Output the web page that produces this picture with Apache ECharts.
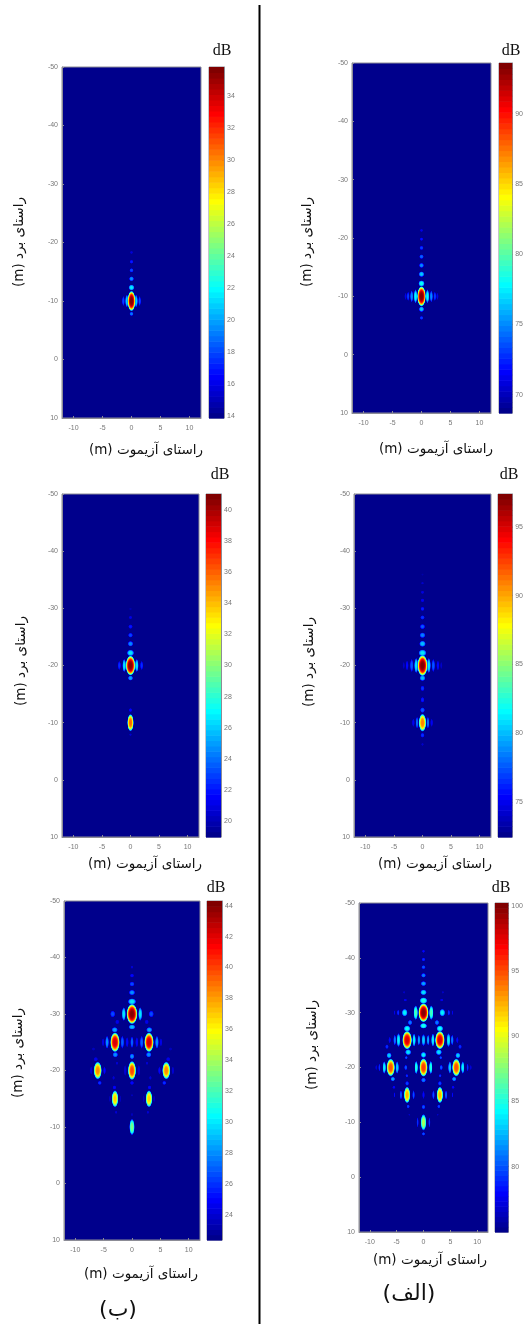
<!DOCTYPE html>
<html>
<head>
<meta charset="utf-8">
<style>html,body{margin:0;padding:0;background:#fff}#c{width:526px;height:1324px}</style>
<script src="https://cdn.jsdelivr.net/npm/echarts@6/dist/echarts.min.js"></script>
</head>
<body>
<div id="c"></div>
<script>
// ---- Data ----
// Lobe rows: [azimuth m, range m, azimuth width m, range width m, peak dB]
// "Pairs" rows occur at both +azimuth and -azimuth.
const azimuthTicks = [-10, -5, 0, 5, 10];
const rangeTicks = [-50, -40, -30, -20, -10, 0, 10];

const barTL = {min: 13.9, max: 35.8, ticks: [14,16,18,20,22,24,26,28,30,32,34]};
const barTR = {min: 68.7, max: 93.6, ticks: [70,75,80,85,90]};
const barML = {min: 19, max: 41, ticks: [20,22,24,26,28,30,32,34,36,38,40]};
const barMR = {min: 72.45, max: 97.4, ticks: [75,80,85,90,95]};
const barBL = {min: 22.4, max: 44.3, ticks: [24,26,28,30,32,34,36,38,40,42,44]};
const barBR = {min: 75, max: 100.2, ticks: [80,85,90,95,100]};

const centreTL = [
 [0,-10,1.15,2.9,35.8],[0,-12.3,.85,.85,21.5],[0,-13.8,.7,.7,19.5],[0,-15.25,.6,.6,18],
 [0,-16.7,.55,.55,17],[0,-18.3,.45,.45,15.5],[0,-7.8,.6,.6,19]];
const pairsTL = [[.8,-10,.5,1.8,21],[1.4,-10,.4,1.4,18]];

const centreTR = [
 [0,-10,1.25,2.9,93.6],[0,-12.2,.9,.9,78],[0,-13.8,.8,.8,76.5],[0,-15.3,.7,.7,75],[0,-16.8,.65,.65,74],
 [0,-18.3,.6,.6,73],[0,-19.8,.5,.5,72],[0,-21.3,.45,.45,71],[0,-7.8,.75,.8,76.5],[0,-6.3,.55,.55,73]];
const pairsTR = [[1.03,-10,.5,2,78],[1.7,-10,.45,1.7,75],[2.3,-10,.4,1.3,73],[2.75,-10,.35,1,71]];

const centreML = [
 [0,-20,1.4,2.9,41],[0,-22.2,1.05,.95,26.5],[0,-23.8,.8,.8,24.5],[0,-25.3,.7,.7,23],[0,-26.8,.65,.65,22],
 [0,-28.4,.5,.5,21],[0,-29.9,.4,.4,19.8],[0,-17.8,.75,.75,25],
 [0,-10,.95,2.5,36],[0,-12.2,.5,.6,21.5],[0,-7.9,.4,.4,20.5]];
const pairsML = [[1.1,-20,.55,1.9,26.5],[1.95,-20,.45,1.3,22.5]];

const centreMR = [
 [0,-20,1.5,3.1,97.4],[0,-22.2,1.15,1,81],[0,-23.8,.95,.9,80],[0,-25.3,.85,.8,78.5],[0,-26.8,.75,.75,77.5],
 [0,-28.4,.65,.65,76.5],[0,-29.9,.6,.6,76],[0,-31.4,.55,.55,75],[0,-32.8,.5,.5,74.5],[0,-34.4,.4,.4,74],
 [0,-35.9,.35,.35,73.2],[0,-17.8,.85,.85,80],[0,-16,.6,.8,76.5],[0,-14,.55,.8,76],[0,-12.2,.7,.8,77.5],
 [0,-10,1.1,2.6,91],[0,-7.8,.6,.7,76.5],[0,-6.2,.4,.45,74]];
const pairsMR = [[1.1,-20,.6,2.2,81],[1.9,-20,.5,1.9,77.5],[2.7,-20,.45,1.4,75.5],[3.3,-20,.35,1,74],
 [.95,-10,.45,1.7,78],[1.6,-10,.4,1.2,75]];

const centreBL = [
 [0,-30,1.6,3,44.2],[0,-32.2,1.2,.95,30],[0,-33.8,.9,.8,28],[0,-35.3,.75,.7,26.5],[0,-36.8,.6,.6,25],[0,-38.3,.45,.5,24],
 [0,-27.7,1,.75,29],[0,-25,.5,1.7,27],[0,-22.5,.7,.85,28],[0,-20,1.2,2.8,40],[0,-17.8,.6,.6,25],[0,-15.6,.3,.4,23.5],
 [0,-10,.8,2.4,33],[0,-12.2,.35,.5,23.5]];
const pairsBL = [
 [1.45,-30,.6,2,30],[3.4,-30,.75,1,26.5],[2.6,-28.6,.6,.7,24.5],
 [3,-25,1.4,2.9,42.5],[3.05,-27.2,.9,.8,28.5],[2.95,-22.8,.8,.8,28],[4.4,-25,.55,1.9,28],[1.7,-25,.5,1.9,27],[5.1,-25,.4,1.2,24.5],[.85,-25,.45,1.5,25],
 [6.05,-20,1.2,2.6,38.5],[6.4,-22,.65,.65,24.5],[6.8,-23.8,.5,.5,23.5],[5.7,-17.8,.6,.6,26],[7.2,-20,.4,1.2,24],[4.85,-20,.4,1.2,25],
 [1.2,-20,.45,1.6,24],[2.65,-21.3,.4,.5,24],[3.25,-18.7,.4,.6,24],
 [3,-15,1,2.5,37],[3.1,-17,.55,.6,25],[2.8,-12.6,.4,.45,24],[3.9,-15,.3,1,23.5],[2.05,-15,.3,1,23.5]];

const centreBR = [
 [0,-30,1.6,2.9,100],[0,-32.2,1.2,1,85],[0,-33.7,1,.85,83.5],[0,-35.3,.85,.75,82],[0,-36.8,.75,.7,81],[0,-38.3,.65,.6,80],[0,-39.7,.55,.55,79],[0,-41.2,.45,.5,78],
 [0,-27.6,1.1,.85,85],[0,-25,.6,1.8,83],[0,-22.3,.85,.9,84],[0,-20,1.3,2.8,95.5],[0,-17.7,.75,.75,81],[0,-15,.4,1.2,78],[0,-12.8,.55,.7,80],
 [0,-10,.9,2.5,88.5],[0,-7.9,.5,.55,80]];
const pairsBR = [
 [1.45,-30,.7,2.2,86],[3.5,-30,.9,1.15,84],[4.7,-30,.4,.9,79],[5.4,-30,.3,.7,77.5],[2.5,-28.2,.7,.8,81],[3.4,-32.3,.55,.45,77.5],[3.6,-33.7,.4,.4,76.5],
 [3.05,-25,1.5,2.8,98],[3.05,-27.1,1.05,.95,84.5],[2.85,-22.8,.95,.9,83.5],[4.65,-25,.6,2.1,84],[1.75,-25,.55,2,84],[5.35,-25,.45,1.6,81],[6.3,-25,.4,1,78],[.87,-25,.45,1.6,82],
 [6.8,-23.8,.55,.7,79],[6.4,-22.2,.8,.85,83],
 [6.1,-20,1.3,2.7,95],[7.3,-20,.55,1.9,84],[4.9,-20,.55,1.9,83],[8.2,-20,.35,1.2,79],[8.8,-20,.3,.8,77],[5.7,-17.9,.7,.7,82],[5.5,-16.4,.5,.5,78],
 [1.35,-20,.55,2,85],[3.3,-20,.5,.8,80],[3.1,-18.5,.45,.5,79],[3.2,-21.8,.45,.5,80],
 [3.05,-15,1,2.5,92.5],[1.85,-15,.4,1.4,80],[4.2,-15,.4,1.4,80],[5.4,-15,.3,.8,78],[3.05,-17.1,.6,.7,79.5],[2.85,-12.9,.5,.6,79.5],[2.65,-11.4,.3,.35,76.5],
 [1.1,-10,.35,1.5,79]];

// ---- Layout ----
const azimuthTitle = '(m) راستای آزیموت';
const rangeTitle = '(m) راستای برد';
const panels = [
 {l:62,r:201,t:67,b:418,bl:209,br:224,bar:barTL,c:centreTL,p:pairsTL,xt:[146,450],yt:[19,242],db:[222,51]},
 {l:352,r:491,t:63,b:413,bl:499,br:514,bar:barTR,c:centreTR,p:pairsTR,xt:[436,449],yt:[307,242],db:[511,51]},
 {l:62,r:199,t:494,b:837,bl:206,br:221,bar:barML,c:centreML,p:pairsML,xt:[145,864],yt:[21,661],db:[220,475]},
 {l:354,r:491,t:494,b:837,bl:498,br:513,bar:barMR,c:centreMR,p:pairsMR,xt:[435,864],yt:[309,662],db:[509,475]},
 {l:64,r:200,t:901,b:1240,bl:207,br:222,bar:barBL,c:centreBL,p:pairsBL,xt:[141,1274],yt:[18,1053],db:[216,888]},
 {l:359,r:488,t:903,b:1232,bl:495,br:510,bar:barBR,c:centreBR,p:pairsBR,xt:[430,1260],yt:[312,1045],db:[501,888]}
];

// MATLAB style jet colour map
function jet(t){
  t = 0.0125 + 0.9875 * Math.max(0, Math.min(1, t));
  const f = o => Math.round(255 * Math.max(0, Math.min(1, 1.5 - Math.abs(4 * t - o))));
  return [f(3), f(2), f(1)];
}
const rgb = (c, a) => `rgba(${c[0]},${c[1]},${c[2]},${a})`;
const GRAY = '#8c8c96', LABEL = '#777';
const TICK_FONT = {color: LABEL, fontSize: 7, fontFamily: 'Liberation Sans'};
const LOBE_SCALE = 1.25;

const grid = [], xAxis = [], yAxis = [], series = [], texts = [];
panels.forEach((p, i) => {
  // main image
  grid.push({left:p.l, top:p.t, width:p.r-p.l, height:p.b-p.t, show:true, backgroundColor:rgb(jet(0),1), borderColor:GRAY, borderWidth:1});
  xAxis.push({type:'value', gridIndex:2*i, min:-12, max:12, position:'bottom',
    axisLine:{show:true, onZero:false, lineStyle:{color:GRAY}}, splitLine:{show:false},
    axisTick:{show:true, inside:true, length:2, lineStyle:{color:GRAY}, customValues:azimuthTicks},
    axisLabel:{...TICK_FONT, margin:7, customValues:azimuthTicks, formatter:v=>String(v)}});
  yAxis.push({type:'value', gridIndex:2*i, min:-50, max:10, inverse:true, position:'left',
    axisLine:{show:true, onZero:false, lineStyle:{color:GRAY}}, splitLine:{show:false},
    axisTick:{show:true, inside:true, length:2, lineStyle:{color:GRAY}, customValues:rangeTicks},
    axisLabel:{...TICK_FONT, margin:4, customValues:rangeTicks, formatter:v=>String(v)}});
  // lobes
  const rows = p.c.slice();
  p.p.forEach(r => { rows.push(r); rows.push([-r[0], r[1], r[2], r[3], r[4]]); });
  rows.sort((a, b) => a[4] - b[4]);
  const span = p.bar.max - p.bar.min;
  series.push({type:'custom', xAxisIndex:2*i, yAxisIndex:2*i, coordinateSystem:'cartesian2d', clip:true, silent:true,
    encode:{x:0, y:1}, data:rows,
    renderItem:(params, api) => {
      const c = api.coord([api.value(0), api.value(1)]);
      const s = api.size([api.value(2), api.value(3)]);
      const peak = (api.value(4) - p.bar.min) / span;
      const stops = [];
      for (let k = 0; k <= 16; k++) {
        const d = k / 16;
        stops.push({offset:d, color:rgb(jet(peak * (1 - Math.pow(d, 3.5))), d > 0.9 ? (1 - d) / 0.1 : 1)});
      }
      return {type:'circle', x:c[0], y:c[1], scaleX:LOBE_SCALE*s[0]/200, scaleY:LOBE_SCALE*s[1]/200,
        shape:{cx:0, cy:0, r:100},
        style:{fill:{type:'radial', x:.5, y:.5, r:.5, colorStops:stops}}};
    }});
  // colour bar
  grid.push({left:p.bl, top:p.t, width:p.br-p.bl, height:p.b-p.t, show:true, backgroundColor:'#fff', borderColor:GRAY, borderWidth:1});
  xAxis.push({type:'value', gridIndex:2*i+1, min:0, max:1, show:false});
  yAxis.push({type:'value', gridIndex:2*i+1, min:p.bar.min, max:p.bar.max, position:'right',
    axisLine:{show:true, onZero:false, lineStyle:{color:GRAY}}, splitLine:{show:false},
    axisTick:{show:true, inside:true, length:2, lineStyle:{color:'#444'}, customValues:p.bar.ticks},
    axisLabel:{...TICK_FONT, margin:3, customValues:p.bar.ticks, formatter:v=>String(v)}});
  const levels = [];
  for (let k = 0; k < 64; k++) levels.push([k, p.bar.min + span*k/64, p.bar.min + span*(k+1)/64]);
  series.push({type:'custom', xAxisIndex:2*i+1, yAxisIndex:2*i+1, coordinateSystem:'cartesian2d', silent:true,
    encode:{y:[1,2]}, data:levels,
    renderItem:(params, api) => {
      const a = api.coord([0, api.value(1)]), b = api.coord([1, api.value(2)]);
      return {type:'rect', shape:{x:a[0], y:b[1], width:b[0]-a[0], height:a[1]-b[1]+0.6},
        style:{fill:rgb(jet(api.value(0)/63),1)}};
    }});
  // texts
  const T = (txt, xy, font, size, rot) => texts.push({type:'text', x:xy[0], y:xy[1], rotation:rot||0, z:10,
    style:{text:txt, fill:'#111', font:`${size}px "${font}"`, align:'center', verticalAlign:'middle'}});
  T(azimuthTitle, p.xt, 'DejaVu Sans', 13.5);
  T(rangeTitle, p.yt, 'DejaVu Sans', 13.5, Math.PI/2);
  T('dB', p.db, 'Liberation Serif', 16);
});
const addLabel = (txt, x, y) => texts.push({type:'text', x, y, z:10,
  style:{text:txt, fill:'#111', font:'22px "DejaVu Sans"', align:'center', verticalAlign:'middle'}});
addLabel('(ب)', 118, 1310);
addLabel('(الف)', 409, 1294);
texts.push({type:'line', z:10, shape:{x1:259.5, y1:5, x2:259.5, y2:1324}, style:{stroke:'#000', lineWidth:2}});

const chart = echarts.init(document.getElementById('c'), null, {renderer:'canvas'});
chart.setOption({animation:false, backgroundColor:'#fff', grid, xAxis, yAxis, series, graphic:{elements:texts}});
</script>
</body>
</html>
